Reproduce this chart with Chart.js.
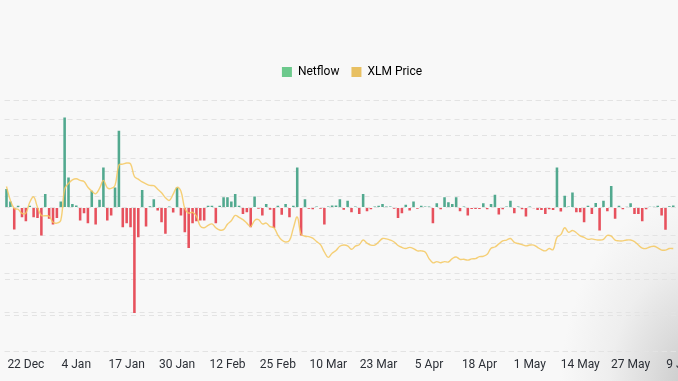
<!DOCTYPE html>
<html>
<head>
<meta charset="utf-8">
<script src="https://cdn.jsdelivr.net/npm/chart.js@4.4.1/dist/chart.umd.min.js"></script>
<style>
  html, body { margin: 0; padding: 0; width: 678px; height: 381px; overflow: hidden; }
  body {
    background: radial-gradient(ellipse 140px 200px at 700px 390px, #c4c4c4 0%, #dcdcdc 35%, #eeeeee 65%, #f8f8f8 100%) , #f8f8f8;
  }
  #wrap { position: absolute; left: 0; top: 0; width: 703px; height: 381px; }
  canvas { display: block; }
</style>
</head>
<body>
<div id="wrap"><canvas id="c" width="703" height="381"></canvas></div>
<script>
// Categories: daily, 17 Dec 2024 – 13 Jun 2025 (axis runs past the last data day)
const categories = [
 '17 Dec','18 Dec','19 Dec','20 Dec','21 Dec','22 Dec','23 Dec','24 Dec','25 Dec','26 Dec','27 Dec','28 Dec','29 Dec','30 Dec','31 Dec',
 '1 Jan','2 Jan','3 Jan','4 Jan','5 Jan','6 Jan','7 Jan','8 Jan','9 Jan','10 Jan','11 Jan','12 Jan','13 Jan','14 Jan','15 Jan','16 Jan','17 Jan','18 Jan','19 Jan','20 Jan','21 Jan','22 Jan','23 Jan','24 Jan','25 Jan','26 Jan','27 Jan','28 Jan','29 Jan','30 Jan','31 Jan',
 '1 Feb','2 Feb','3 Feb','4 Feb','5 Feb','6 Feb','7 Feb','8 Feb','9 Feb','10 Feb','11 Feb','12 Feb','13 Feb','14 Feb','15 Feb','16 Feb','17 Feb','18 Feb','19 Feb','20 Feb','21 Feb','22 Feb','23 Feb','24 Feb','25 Feb','26 Feb','27 Feb','28 Feb',
 '1 Mar','2 Mar','3 Mar','4 Mar','5 Mar','6 Mar','7 Mar','8 Mar','9 Mar','10 Mar','11 Mar','12 Mar','13 Mar','14 Mar','15 Mar','16 Mar','17 Mar','18 Mar','19 Mar','20 Mar','21 Mar','22 Mar','23 Mar','24 Mar','25 Mar','26 Mar','27 Mar','28 Mar','29 Mar','30 Mar','31 Mar',
 '1 Apr','2 Apr','3 Apr','4 Apr','5 Apr','6 Apr','7 Apr','8 Apr','9 Apr','10 Apr','11 Apr','12 Apr','13 Apr','14 Apr','15 Apr','16 Apr','17 Apr','18 Apr','19 Apr','20 Apr','21 Apr','22 Apr','23 Apr','24 Apr','25 Apr','26 Apr','27 Apr','28 Apr','29 Apr','30 Apr',
 '1 May','2 May','3 May','4 May','5 May','6 May','7 May','8 May','9 May','10 May','11 May','12 May','13 May','14 May','15 May','16 May','17 May','18 May','19 May','20 May','21 May','22 May','23 May','24 May','25 May','26 May','27 May','28 May','29 May','30 May','31 May',
 '1 Jun','2 Jun','3 Jun','4 Jun','5 Jun','6 Jun','7 Jun','8 Jun','9 Jun','10 Jun','11 Jun','12 Jun','13 Jun'
];

// Tick labels shown on the x axis
const tickLabels = ['22 Dec','4 Jan','17 Jan','30 Jan','12 Feb','25 Feb','10 Mar','23 Mar','5 Apr','18 Apr','1 May','14 May','27 May','9 Jun'];

// Netflow (arbitrary units)
const netflow = [
 5.2,1.7,-6.1,0.5,-2.7,-3.8,0.5,-2.7,-2.9,-7.8,
 3.8,-3.1,-4.7,-2.9,1.7,25.1,8.4,1.0,0.6,-3.6,
 -1.6,-4.4,4.7,-4.7,2.2,11.2,-3.6,-2.2,5.6,21.4,
 -5.5,-4.4,-5.5,-29.4,-8.3,4.9,-5.3,0.4,2.3,-0.8,
 -4.1,-7.3,0.3,-1.4,5.6,-2.2,-6.9,-11.3,-4.4,-3.8,
 -3.6,-3.6,0.5,0.5,-4.4,0.5,2.9,2.9,1.7,3.8,
 0.5,-1.8,-1.3,-5.5,3.1,-0.3,-2.2,1.0,-0.6,-5.7,
 0.5,-2.0,1.0,-2.7,0.5,11.2,-7.8,2.3,-0.3,-0.5,
 0.3,-0.3,-4.7,0.3,0.6,0.6,2.3,-0.6,1.9,-1.3,
 0.3,-1.8,3.8,-1.0,-0.5,0.3,0.5,1.0,0.3,0.3,
 -0.3,-2.9,-1.6,0.8,-0.8,1.7,-0.3,0.5,0.3,0.3,
 -4.4,1.2,-0.5,2.9,1.5,1.0,2.9,-1.0,0.3,-2.2,
 -0.4,-0.4,-0.4,1.2,-0.5,1.0,3.6,-1.9,-0.5,0.3,
 1.9,-1.6,0.3,-0.5,-2.5,0.3,-0.2,-0.7,-0.7,-1.8,
 -0.5,-0.7,11.2,-1.1,3.3,0.3,4.2,-1.3,-1.3,-4.1,
 0.5,-1.8,1.3,-6.4,1.9,-1.0,6.0,-3.1,0.5,-0.5,
 0.2,1.2,-1.8,-1.8,-3.8,-0.5,0.2,0.2,0.5,-2.2,
 -6.2,0.4,0.6
];

// XLM price (USD)
const xlmPrice = [
 0.427,0.391,0.370,0.368,0.357,0.358,0.386,0.400,0.373,0.352,
 0.351,0.350,0.334,0.332,0.339,0.420,0.435,0.444,0.447,0.443,
 0.440,0.425,0.415,0.408,0.422,0.443,0.424,0.422,0.430,0.483,
 0.485,0.488,0.486,0.453,0.446,0.439,0.434,0.430,0.429,0.420,
 0.411,0.398,0.391,0.407,0.425,0.415,0.370,0.358,0.360,0.350,
 0.324,0.320,0.326,0.330,0.320,0.314,0.315,0.329,0.338,0.352,
 0.347,0.341,0.332,0.323,0.339,0.341,0.330,0.332,0.323,0.320,
 0.301,0.288,0.283,0.287,0.319,0.348,0.303,0.298,0.297,0.293,
 0.284,0.276,0.257,0.243,0.254,0.261,0.272,0.275,0.273,0.264,
 0.272,0.276,0.288,0.280,0.275,0.275,0.283,0.292,0.291,0.288,
 0.283,0.274,0.269,0.266,0.269,0.266,0.260,0.260,0.257,0.240,
 0.229,0.232,0.229,0.232,0.231,0.240,0.244,0.238,0.238,0.236,
 0.239,0.240,0.245,0.246,0.251,0.267,0.270,0.278,0.286,0.288,
 0.292,0.282,0.279,0.276,0.273,0.275,0.275,0.269,0.263,0.260,
 0.266,0.263,0.295,0.302,0.320,0.308,0.313,0.307,0.299,0.295,
 0.290,0.291,0.289,0.288,0.290,0.300,0.298,0.288,0.286,0.286,
 0.288,0.288,0.284,0.275,0.267,0.266,0.270,0.272,0.268,0.262,
 0.262,0.266,0.266
];

const GREEN = '#52a98f';
const RED = '#e7515d';
const LINE = 'rgba(245, 200, 95, 0.85)';
const GRID = '#e3e3e3';

const legendSpacer = {
  id: 'legendSpacer',
  beforeInit(chart) {
    const origFit = chart.legend.fit;
    chart.legend.fit = function () {
      origFit.bind(chart.legend)();
      this.height += 12;
    };
  }
};

new Chart(document.getElementById('c'), {
  type: 'bar',
  data: {
    labels: categories,
    datasets: [
      {
        type: 'line',
        label: 'XLM Price',
        data: xlmPrice,
        yAxisID: 'y1',
        borderColor: LINE,
        borderWidth: 1.4,
        pointRadius: 0,
        tension: 0.4,
        fill: false,
        order: 0
      },
      {
        type: 'bar',
        label: 'Netflow',
        data: netflow,
        yAxisID: 'y',
        backgroundColor: (ctx) => (ctx.raw >= 0 ? GREEN : RED),
        borderWidth: 0,
        categoryPercentage: 1,
        barPercentage: 0.66,
        order: 1
      }
    ]
  },
  options: {
    responsive: false,
    animation: false,
    layout: { padding: { top: 54, bottom: 2.6, left: 1, right: 0 } },
    plugins: {
      tooltip: { enabled: false },
      legend: {
        position: 'top',
        labels: {
          boxWidth: 10,
          boxHeight: 10,
          padding: 12,
          color: '#555a60',
          font: { family: 'Roboto', size: 12 },
          generateLabels: () => [
            { text: 'Netflow', fillStyle: '#6cc98c', strokeStyle: '#6cc98c', lineWidth: 0, datasetIndex: 1 },
            { text: 'XLM Price', fillStyle: '#e8c062', strokeStyle: '#e8c062', lineWidth: 0, datasetIndex: 0 }
          ]
        }
      }
    },
    scales: {
      x: {
        type: 'category',
        offset: true,
        grid: { display: false, drawTicks: false },
        border: { display: false },
        ticks: {
          autoSkip: false,
          maxRotation: 0,
          padding: 6.5,
          color: '#2b2f36',
          font: { family: 'Roboto', size: 12 },
          callback: function (value) {
            const lab = this.getLabelForValue(value);
            return tickLabels.includes(lab) ? lab : '';
          }
        }
      },
      y: {
        position: 'left',
        min: -40,
        max: 30,
        ticks: { display: false, stepSize: 10 },
        border: { display: false, dash: [5, 4] },
        grid: { color: GRID, drawTicks: false, lineWidth: 1 }
      },
      y1: {
        position: 'right',
        min: 0,
        max: 0.6516,
        ticks: { display: false, stepSize: 0.1 },
        border: { display: false, dash: [5, 4] },
        grid: { color: GRID, drawTicks: false, lineWidth: 1 }
      }
    }
  },
  plugins: [legendSpacer]
});
</script>
</body>
</html>
